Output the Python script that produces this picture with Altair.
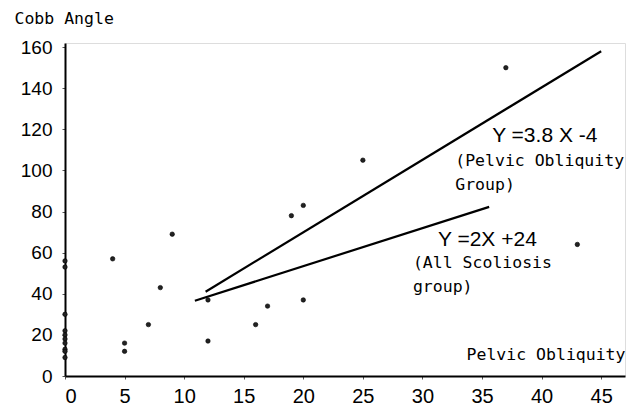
import altair as alt
import pandas as pd

# Scatter data (Pelvic Obliquity vs Cobb Angle)
px = [0, 0, 0, 0, 0, 0, 0, 0, 0, 0, 4, 5, 5, 7, 8, 9, 12, 12, 16, 17, 19, 20, 20, 25, 37, 43]
py = [56, 53, 30, 22, 20, 18, 16, 13, 12, 9, 57, 16, 12, 25, 43, 69, 37, 17, 25, 34, 78, 83, 37, 105, 150, 64]

# Regression lines as drawn (endpoints)
line_group = ["po", "po", "all", "all"]
line_x = [11.8, 45, 10.9, 35.6]
line_y = [41, 158, 36.6, 82.3]

# Annotations
ann_text = ["(Pelvic Obliquity", "Group)", "(All Scoliosis", "group)"]
ann_x = [32.75, 32.75, 29.2, 29.2]
ann_y = [104.6, 92.9, 55, 43.3]

eq_text = ["Y =3.8 X -4", "Y =2X +24"]
eq_x = [35.85, 31.3]
eq_y = [116.8, 66.2]

xticks = [0, 5, 10, 15, 20, 25, 30, 35, 40, 45]
yticks = [0, 20, 40, 60, 80, 100, 120, 140, 160]

pts = pd.DataFrame({"x": px, "y": py})
lines = pd.DataFrame({"g": line_group, "x": line_x, "y": line_y})
ann = pd.DataFrame({"t": ann_text, "x": ann_x, "y": ann_y})
eqs = pd.DataFrame({"t": eq_text, "x": eq_x, "y": eq_y})

xscale = alt.Scale(domain=[0, 47], nice=False, zero=False)
yscale = alt.Scale(domain=[0, 162], nice=False, zero=False)

MONO = "DejaVu Sans Mono"

xaxis = alt.Axis(values=xticks, title="Pelvic Obliquity", grid=False, domainColor="black",
                 domainWidth=2, tickSize=3, tickColor="#555", labelFontSize=20,
                 labelFont="Liberation Sans", labelColor="black", labelPadding=7,
                 titleFont=MONO, titleFontSize=16.5, titleFontWeight="normal",
                 titleX=560, titleY=-22, titleAlign="right", titleBaseline="middle",
                 titleColor="black")
yaxis = alt.Axis(values=yticks, title="Cobb Angle", grid=False, domainColor="black",
                 domainWidth=2, tickSize=3, tickColor="#555", labelFontSize=19,
                 labelFont="Liberation Sans", labelColor="black", labelPadding=10,
                 titleFont=MONO, titleFontSize=16.5, titleFontWeight="normal",
                 titleAngle=0, titleX=-51, titleY=-25, titleAlign="left",
                 titleBaseline="middle", titleColor="black")

points = alt.Chart(pts).mark_circle(size=20, color="#222", opacity=1, stroke="#000",
                                   strokeWidth=0.6).encode(
    x=alt.X("x:Q", scale=xscale, axis=xaxis),
    y=alt.Y("y:Q", scale=yscale, axis=yaxis),
)

reg = alt.Chart(lines).mark_line(color="black", strokeWidth=2.2).encode(
    x=alt.X("x:Q", scale=xscale),
    y=alt.Y("y:Q", scale=yscale),
    detail="g:N",
)

ann_marks = alt.Chart(ann).mark_text(align="left", baseline="middle", font=MONO,
                                     fontSize=16.5, color="black").encode(
    x=alt.X("x:Q", scale=xscale),
    y=alt.Y("y:Q", scale=yscale),
    text="t:N",
)

eq_marks = alt.Chart(eqs).mark_text(align="left", baseline="middle", font="Liberation Sans",
                                    fontSize=21, color="black").encode(
    x=alt.X("x:Q", scale=xscale),
    y=alt.Y("y:Q", scale=yscale),
    text="t:N",
)

chart = alt.layer(reg, points, ann_marks, eq_marks).properties(
    width=560, height=333,
    autosize=alt.AutoSizeParams(type="none"),
    padding={"left": 65, "top": 43, "right": 17, "bottom": 37},
).configure_view(stroke=None).configure(background="white")

chart.save("out.html", embed_options={"renderer": "svg", "actions": False})
